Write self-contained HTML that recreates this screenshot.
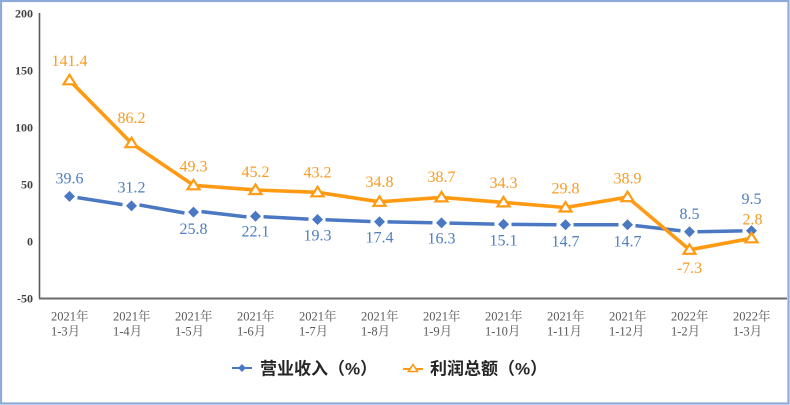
<!DOCTYPE html>
<html><head><meta charset="utf-8"><style>
html,body{margin:0;padding:0;background:#fff;}
svg{display:block;}
</style></head><body>
<svg width="790" height="405" viewBox="0 0 790 405" xmlns="http://www.w3.org/2000/svg">
<rect x="0" y="0" width="790" height="405" fill="#fff"/>
<rect x="1" y="1" width="787.5" height="402.5" fill="none" stroke="#8eaadb" stroke-width="2.2"/>
<!-- axes -->
<line x1="39.5" y1="13" x2="39.5" y2="298.5" stroke="#595959" stroke-width="1.6"/>
<line x1="39" y1="298.5" x2="787" y2="298.5" stroke="#6b6b6b" stroke-width="2"/>
<!-- y tick labels -->
<g font-family="Liberation Serif, serif" font-weight="bold" font-size="12" fill="#404040" text-anchor="end">
<text x="33" y="17.5">200</text>
<text x="33" y="74.5">150</text>
<text x="33" y="131.5">100</text>
<text x="33" y="188.5">50</text>
<text x="33" y="245.5">0</text>
<text x="33" y="302.5">-50</text>
</g>
<!-- x labels -->
<g font-family="Liberation Serif, 'Noto Serif CJK SC', serif" font-size="12.5" fill="#595959">
<text x="51" y="320.5">2021年</text><text x="51" y="335.5">1-3月</text>
<text x="113" y="320.5">2021年</text><text x="113" y="335.5">1-4月</text>
<text x="175" y="320.5">2021年</text><text x="175" y="335.5">1-5月</text>
<text x="237" y="320.5">2021年</text><text x="237" y="335.5">1-6月</text>
<text x="299" y="320.5">2021年</text><text x="299" y="335.5">1-7月</text>
<text x="361" y="320.5">2021年</text><text x="361" y="335.5">1-8月</text>
<text x="423" y="320.5">2021年</text><text x="423" y="335.5">1-9月</text>
<text x="485" y="320.5">2021年</text><text x="485" y="335.5">1-10月</text>
<text x="547" y="320.5">2021年</text><text x="547" y="335.5">1-11月</text>
<text x="609" y="320.5">2021年</text><text x="609" y="335.5">1-12月</text>
<text x="671" y="320.5">2022年</text><text x="671" y="335.5">1-2月</text>
<text x="733" y="320.5">2022年</text><text x="733" y="335.5">1-3月</text>
</g>
<!-- blue line segments (dashed look) -->
<g stroke="#4a78c2" stroke-width="3.5" fill="none" stroke-linecap="butt">
<line x1="77.5" y1="197.6" x2="122.5" y2="204.6"/>
<line x1="139.5" y1="205.0" x2="184.5" y2="213.0"/>
<line x1="201.5" y1="211.6" x2="246.5" y2="216.9"/>
<line x1="263.5" y1="216.7" x2="308.5" y2="219.1"/>
<line x1="325.5" y1="219.8" x2="370.5" y2="221.5"/>
<line x1="387.5" y1="221.9" x2="432.5" y2="222.8"/>
<line x1="449.5" y1="223.1" x2="494.5" y2="224.1"/>
<line x1="511.5" y1="224.4" x2="556.5" y2="224.7"/>
<line x1="573.5" y1="224.7" x2="618.5" y2="224.7"/>
<line x1="635.5" y1="225.6" x2="680.5" y2="230.8"/>
<line x1="697.5" y1="231.7" x2="742.5" y2="230.9"/>
</g>
<g fill="#4a78c2">
<polygon points="69.5,190.9 75,196.4 69.5,201.9 64,196.4"/>
<polygon points="131.5,200.4 137,205.9 131.5,211.4 126,205.9"/>
<polygon points="193.5,206.6 199,212.1 193.5,217.6 188,212.1"/>
<polygon points="255.5,210.8 261,216.3 255.5,221.8 250,216.3"/>
<polygon points="317.5,214 323,219.5 317.5,225 312,219.5"/>
<polygon points="379.5,216.2 385,221.7 379.5,227.2 374,221.7"/>
<polygon points="441.5,217.4 447,222.9 441.5,228.4 436,222.9"/>
<polygon points="503.5,218.8 509,224.3 503.5,229.8 498,224.3"/>
<polygon points="565.5,219.2 571,224.7 565.5,230.2 560,224.7"/>
<polygon points="627.5,219.2 633,224.7 627.5,230.2 622,224.7"/>
<polygon points="689.5,226.3 695,231.8 689.5,237.3 684,231.8"/>
<polygon points="751.5,225.2 757,230.7 751.5,236.2 746,230.7"/>
</g>
<!-- orange line -->
<polyline fill="none" stroke="#ff9a12" stroke-width="3.6" stroke-linejoin="round"
points="69.5,80.3 131.5,143.2 193.5,185.3 255.5,190.0 317.5,192.3 379.5,201.8 441.5,197.4 503.5,202.4 565.5,207.5 627.5,197.2 689.5,249.8 751.5,238.3"/>
<g fill="#fff" stroke="#ff9a12" stroke-width="2.2" stroke-linejoin="miter">
<polygon points="69.5,74.8 75.5,84.3 63.5,84.3"/>
<polygon points="131.5,137.7 137.5,147.2 125.5,147.2"/>
<polygon points="193.5,179.8 199.5,189.3 187.5,189.3"/>
<polygon points="255.5,184.5 261.5,194 249.5,194"/>
<polygon points="317.5,186.8 323.5,196.3 311.5,196.3"/>
<polygon points="379.5,196.3 385.5,205.8 373.5,205.8"/>
<polygon points="441.5,191.9 447.5,201.4 435.5,201.4"/>
<polygon points="503.5,196.9 509.5,206.4 497.5,206.4"/>
<polygon points="565.5,202 571.5,211.5 559.5,211.5"/>
<polygon points="627.5,191.7 633.5,201.2 621.5,201.2"/>
<polygon points="689.5,244.3 695.5,253.8 683.5,253.8"/>
<polygon points="751.5,232.8 757.5,242.3 745.5,242.3"/>
</g>
<!-- blue labels -->
<g font-family="Liberation Serif, serif" font-size="16" fill="#4e7dc1" text-anchor="middle">
<text x="69.5" y="183.7">39.6</text>
<text x="131.5" y="192.7">31.2</text>
<text x="193.5" y="234">25.8</text>
<text x="255.5" y="236.7">22.1</text>
<text x="317.5" y="240.7">19.3</text>
<text x="379.5" y="242.7">17.4</text>
<text x="441.5" y="243.7">16.3</text>
<text x="503.5" y="245.7">15.1</text>
<text x="565.5" y="246.7">14.7</text>
<text x="627.5" y="246.7">14.7</text>
<text x="689.5" y="219.2">8.5</text>
<text x="751.5" y="204.2">9.5</text>
</g>
<!-- orange labels -->
<g font-family="Liberation Serif, serif" font-size="16" fill="#f79b24" text-anchor="middle">
<text x="69.5" y="66.2">141.4</text>
<text x="131.5" y="123.2">86.2</text>
<text x="193.5" y="171.7">49.3</text>
<text x="255.5" y="177.2">45.2</text>
<text x="317.5" y="177.7">43.2</text>
<text x="379.5" y="187.2">34.8</text>
<text x="441.5" y="182.2">38.7</text>
<text x="503.5" y="188.2">34.3</text>
<text x="565.5" y="193.7">29.8</text>
<text x="627.5" y="183.7">38.9</text>
<text x="689.5" y="273.2">-7.3</text>
<text x="752.5" y="224.7">2.8</text>
</g>
<!-- legend -->
<g>
<line x1="232" y1="368" x2="239" y2="368" stroke="#4a78c2" stroke-width="2"/>
<line x1="245" y1="368" x2="252" y2="368" stroke="#4a78c2" stroke-width="2"/>
<polygon points="242,364 246,368 242,372 238,368" fill="#4a78c2"/>
<line x1="403" y1="369" x2="423" y2="369" stroke="#ff9a12" stroke-width="2"/>
<polygon points="413,364.5 417.5,371.5 408.5,371.5" fill="#fff" stroke="#ff9a12" stroke-width="1.6"/>
</g>
<g font-family="Liberation Sans, 'Noto Sans CJK SC', sans-serif" font-weight="bold" font-size="17" fill="#262626">
<text x="260" y="374.5">营业收入（%）</text>
<text x="430" y="374.5">利润总额（%）</text>
</g>
</svg>
</body></html>
